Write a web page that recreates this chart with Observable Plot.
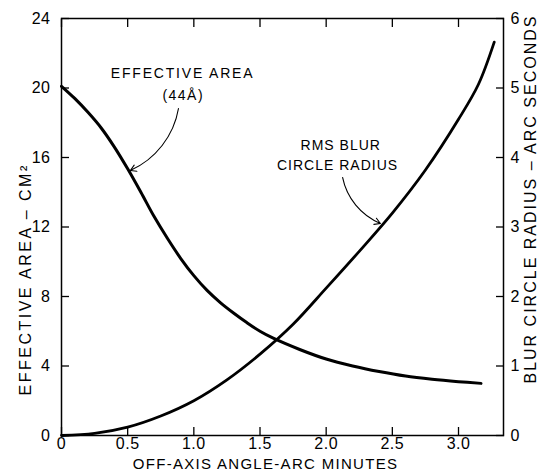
<!DOCTYPE html>
<html>
<head>
<meta charset="utf-8">
<script src="https://cdn.jsdelivr.net/npm/d3@7"></script>
<script src="https://cdn.jsdelivr.net/npm/@observablehq/plot@0.6"></script>
<style>
  html, body { margin: 0; padding: 0; background: #fff; }
  svg { overflow: visible; }
</style>
</head>
<body>
<div id="chart"></div>
<script>
// Axis ticks
const xTicks = [0, 0.5, 1.0, 1.5, 2.0, 2.5, 3.0];
const xTickLabels = ["0", "0.5", "1.0", "1.5", "2.0", "2.5", "3.0"];
const leftTicks = [0, 4, 8, 12, 16, 20, 24];
const rightTicks = [0, 1, 2, 3, 4, 5, 6];

// Effective area (44 Å), cm² — left axis
const areaX = [0, 0.1, 0.2, 0.3, 0.4, 0.5, 0.6, 0.7, 0.8, 0.9, 1.0, 1.1, 1.2, 1.3, 1.4, 1.5, 1.6, 1.8, 2.0, 2.2, 2.4, 2.6, 2.8, 3.0, 3.17];
const areaY = [20.1, 19.4, 18.6, 17.7, 16.6, 15.35, 14.0, 12.6, 11.35, 10.2, 9.2, 8.35, 7.65, 7.05, 6.5, 6.0, 5.6, 4.95, 4.4, 4.0, 3.68, 3.42, 3.24, 3.1, 3.0];

// RMS blur circle radius, arc seconds — right axis
const rmsX = [0, 0.25, 0.5, 0.75, 1.0, 1.25, 1.5, 1.75, 2.0, 2.25, 2.5, 2.75, 3.0, 3.15, 3.27];
const rmsY = [0, 0.03, 0.12, 0.28, 0.5, 0.8, 1.17, 1.6, 2.12, 2.65, 3.2, 3.82, 4.55, 5.05, 5.66];

// Annotations (data units, left axis scale)
const noteLabels = ["EFFECTIVE AREA", "(44Å)", "RMS BLUR", "CIRCLE RADIUS"];
const noteX = [0.915, 0.92, 2.11, 2.086];
const noteY = [20.83, 19.57, 16.69, 15.54];
const noteSpacing = [1.8, 1.5, 1, 1];
const arrowX1 = [0.884, 2.124];
const arrowY1 = [18.82, 14.85];
const arrowX2 = [0.52, 2.41];
const arrowY2 = [15.25, 12.2];
const arrowBend = [28, -28];

const rightFactor = 24 / 6; // right axis 0–6 maps onto left axis 0–24

const areaData = areaX.map((x, i) => ({x, y: areaY[i]}));
const rmsData = rmsX.map((x, i) => ({x, y: rmsY[i]}));
const notes = noteLabels.map((t, i) => ({t, x: noteX[i], y: noteY[i]}));
const arrows = arrowX1.map((x1, i) => ({x1, y1: arrowY1[i], x2: arrowX2[i], y2: arrowY2[i], bend: arrowBend[i]}));

const font = "'Liberation Sans', Arial, sans-serif";

const chart = Plot.plot({
  width: 538,
  height: 473,
  marginLeft: 61,
  marginRight: 35,
  marginTop: 18,
  marginBottom: 38,
  x: {domain: [0, 3.34]},
  y: {domain: [0, 24]},
  style: {fontFamily: font, fontSize: "16px", background: "white", color: "black"},
  marks: [
    Plot.frame({stroke: "black", strokeWidth: 1.5}),
    Plot.axisX({ticks: xTicks, tickFormat: d => xTickLabels[xTicks.indexOf(d)], tickSize: -8, tickPadding: 10, label: null, fontSize: 16, strokeWidth: 1.3}),
    Plot.axisX({anchor: "top", ticks: xTicks, tickFormat: () => "", tickSize: -8, label: null, strokeWidth: 1.3}),
    Plot.axisY({ticks: leftTicks, tickSize: -8, tickPadding: 19, label: null, fontSize: 16, strokeWidth: 1.3}),
    Plot.axisY({anchor: "right", ticks: rightTicks.map(d => d * rightFactor), tickFormat: d => String(d / rightFactor), tickSize: -8, tickPadding: 15, label: null, fontSize: 16, strokeWidth: 1.3}),
    Plot.line(areaData, {x: "x", y: "y", curve: "catmull-rom", stroke: "black", strokeWidth: 3}),
    Plot.line(rmsData, {x: "x", y: d => d.y * rightFactor, curve: "catmull-rom", stroke: "black", strokeWidth: 2.8}),
    Plot.arrow([arrows[0]], {x1: "x1", y1: "y1", x2: "x2", y2: "y2", bend: arrows[0].bend, headLength: 9, strokeWidth: 1.1, stroke: "black"}),
    Plot.arrow([arrows[1]], {x1: "x1", y1: "y1", x2: "x2", y2: "y2", bend: arrows[1].bend, headLength: 9, strokeWidth: 1.1, stroke: "black"}),
    Plot.text(notes, {x: "x", y: "y", text: "t", fontSize: 14, textAnchor: "middle", fill: "black", className: "note"}),
    Plot.text(["EFFECTIVE AREA – CM²"], {frameAnchor: "top-left", dx: -36, dy: 377, rotate: -90, textAnchor: "start", lineAnchor: "middle", fontSize: 16, fill: "black", className: "ltitle"}),
    Plot.text(["BLUR CIRCLE RADIUS – ARC SECONDS"], {frameAnchor: "top-right", dx: 27, dy: 365, rotate: -90, textAnchor: "start", lineAnchor: "middle", fontSize: 16, fill: "black", className: "rtitle"}),
    Plot.text(["OFF-AXIS ANGLE-ARC MINUTES"], {frameAnchor: "bottom", dx: -17, dy: 33, lineAnchor: "bottom", fontSize: 15, fill: "black", className: "xtitle"})
  ]
});

// letter spacing for the hand-lettered labels
const svg = d3.select(chart);
svg.selectAll("text").style("letter-spacing", "0.5px");
svg.selectAll(".note text").each(function(d, i) { d3.select(this).style("letter-spacing", noteSpacing[i] + "px"); });
svg.selectAll(".ltitle text").style("letter-spacing", "2.5px");
svg.selectAll(".rtitle text").style("letter-spacing", "2px");
svg.selectAll(".xtitle text").style("letter-spacing", "1.3px");
document.getElementById("chart").appendChild(chart);
</script>
</body>
</html>
